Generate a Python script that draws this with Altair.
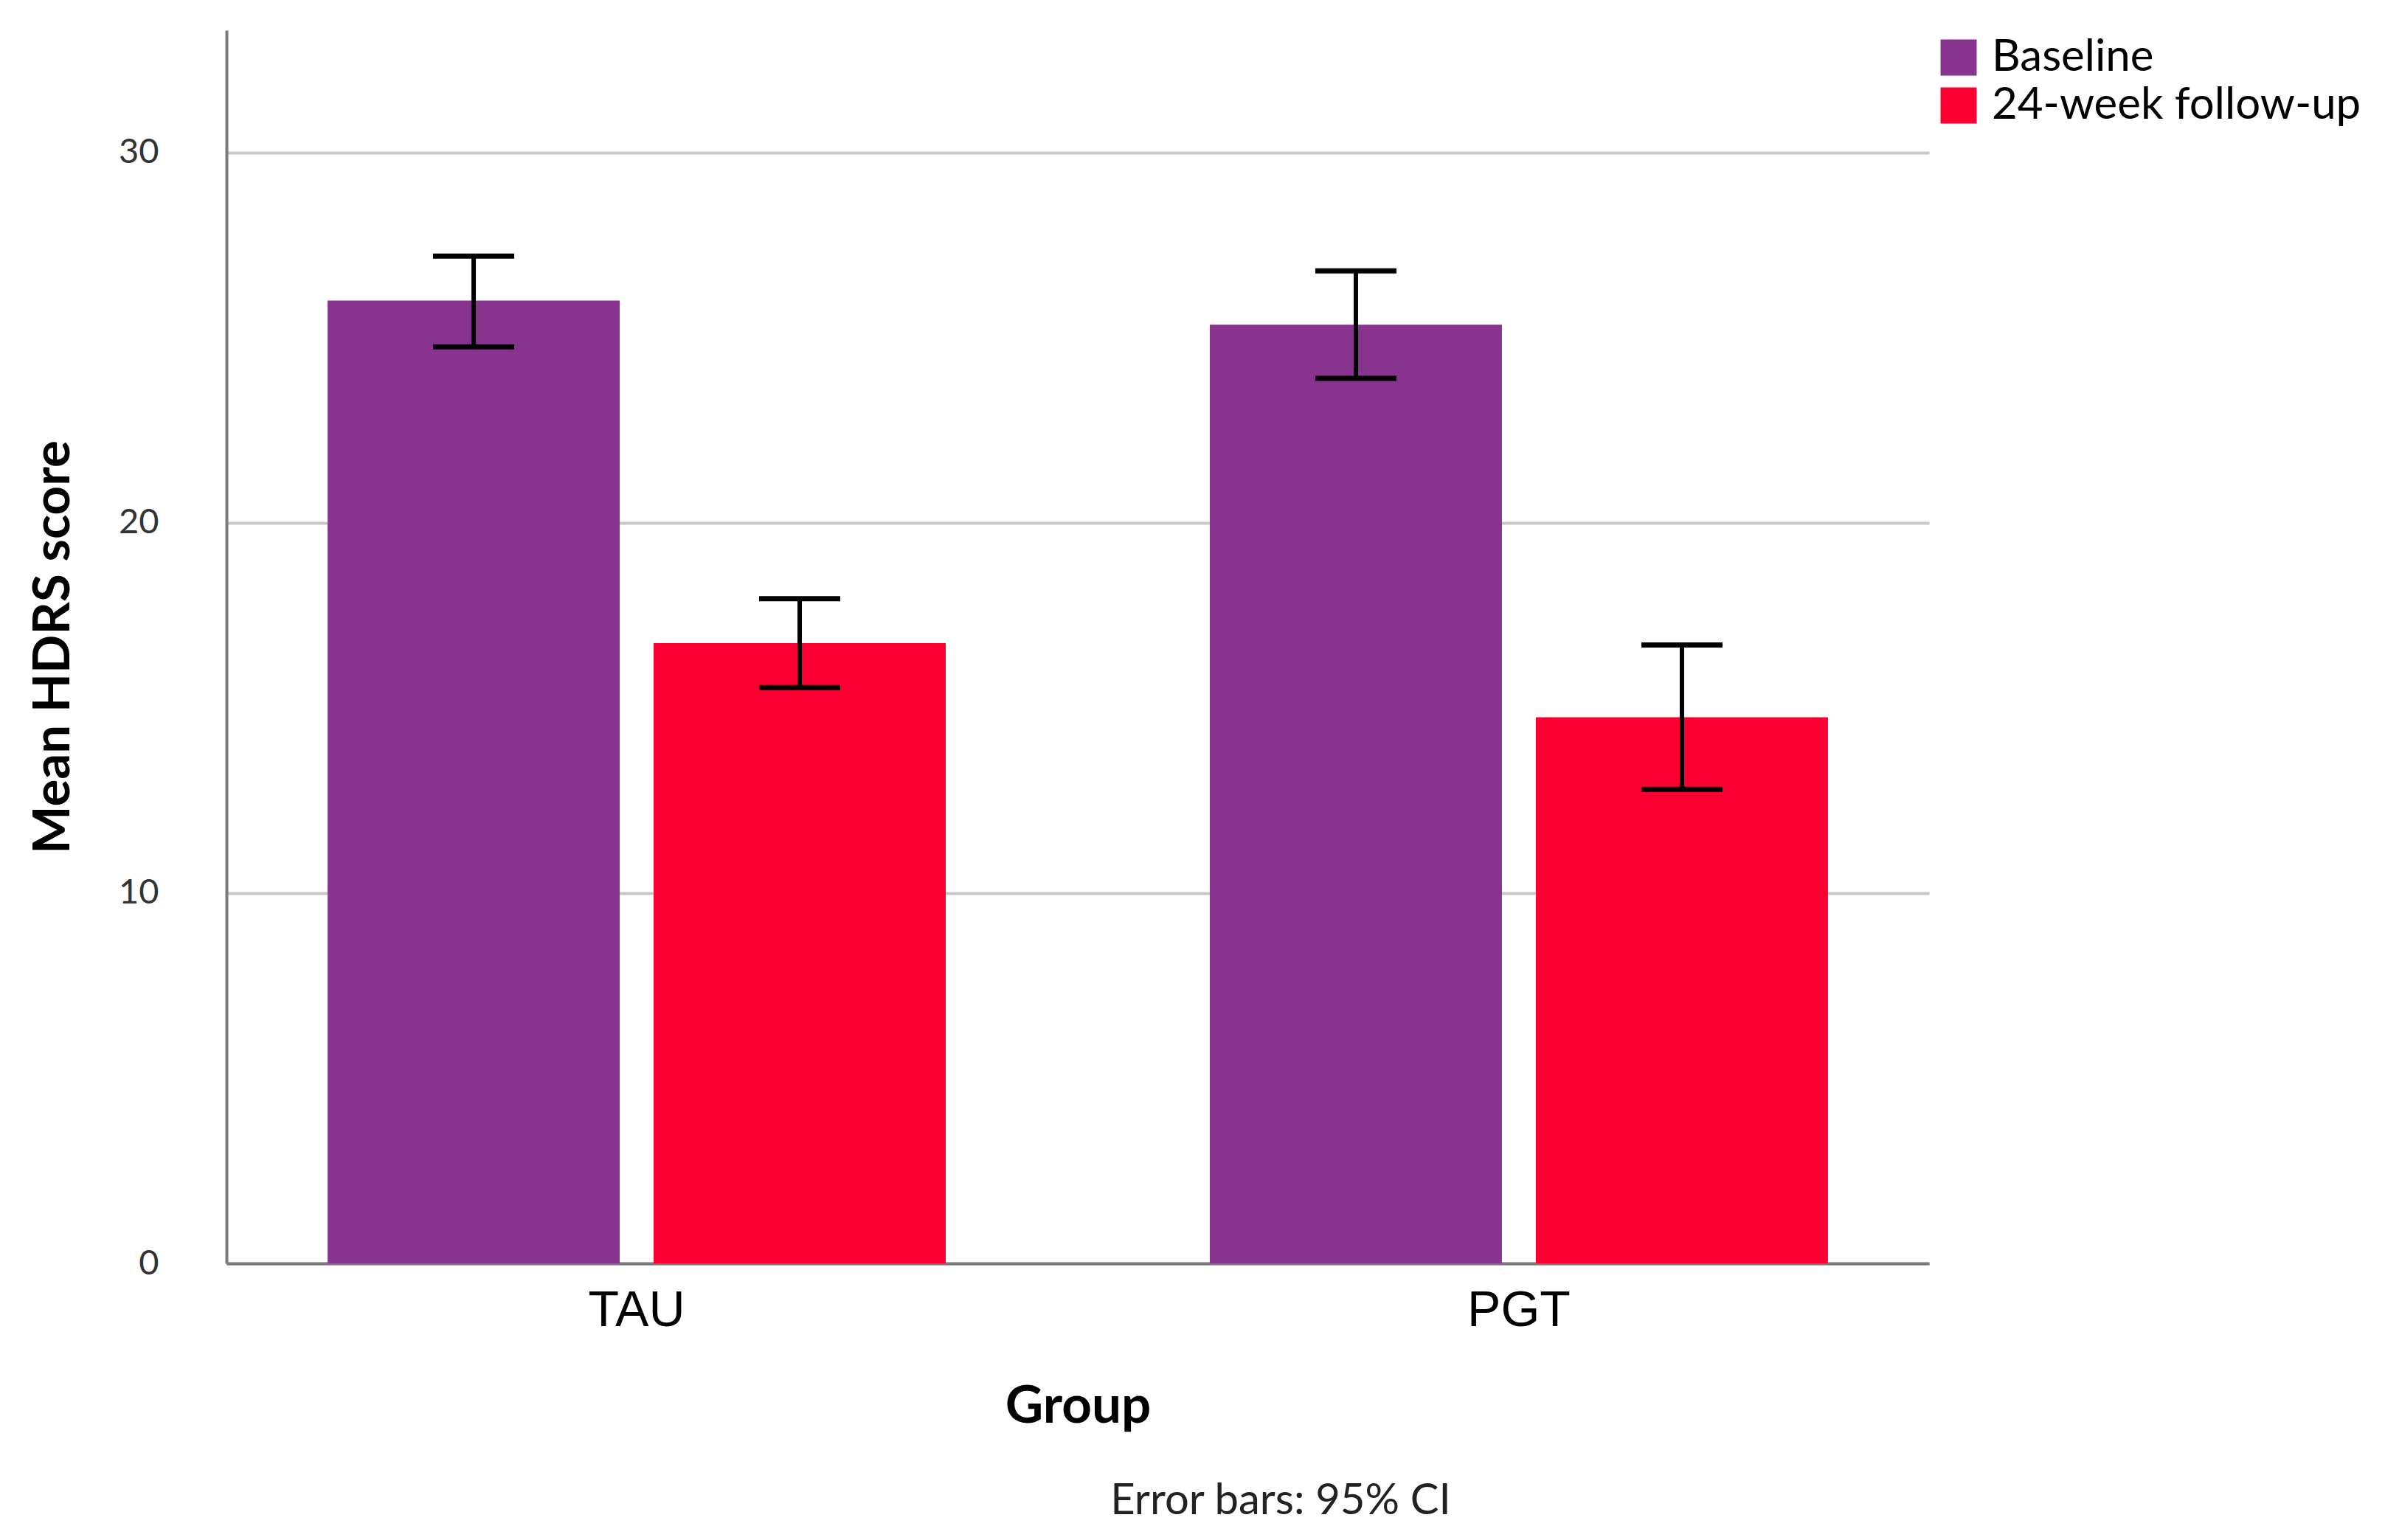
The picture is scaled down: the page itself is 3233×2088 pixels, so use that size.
import altair as alt
import pandas as pd

# ---- data ----
groups = ["TAU", "TAU", "PGT", "PGT"]
times = ["Baseline", "24-week follow-up", "Baseline", "24-week follow-up"]
means = [26.0, 16.75, 25.35, 14.75]
ci_low = [24.75, 15.55, 23.9, 12.8]
ci_high = [27.2, 17.95, 26.8, 16.7]

group_order = ["TAU", "PGT"]
time_order = ["Baseline", "24-week follow-up"]
colors = ["#88348F", "#FC0032"]
y_ticks = [0, 10, 20, 30]

df = pd.DataFrame({
    "group": groups,
    "time": times,
    "mean": means,
    "low": ci_low,
    "high": ci_high,
})

x_enc = alt.X(
    "group:N",
    sort=group_order,
    scale=alt.Scale(paddingInner=0.2993, paddingOuter=0.1146),
    axis=alt.Axis(
        title="Group",
        labelAngle=0,
        ticks=False,
        grid=False,
        labelFont="Liberation Sans",
        labelFontSize=68,
        labelColor="black",
        labelPadding=30,
        titleFont="Lato",
        titleFontSize=71,
        titleFontWeight="bold",
        titleColor="black",
        titlePadding=61,
        domainColor="#7a7a7a",
        domainWidth=4,
    ),
)
xoff_enc = alt.XOffset(
    "time:N",
    sort=time_order,
    scale=alt.Scale(paddingInner=0.104, paddingOuter=0),
)

y_axis = alt.Axis(
    values=y_ticks,
    title="Mean HDRS score",
    ticks=False,
    labelPadding=92,
    labelFont="Lato",
    labelFontSize=47,
    labelColor="#333333",
    titleFont="Lato",
    titleFontSize=69,
    titleFontWeight="bold",
    titleColor="black",
    titlePadding=53,
    gridColor="#c8c8c8",
    gridWidth=4,
    domainColor="#7a7a7a",
    domainWidth=4,
)
y_scale = alt.Scale(domain=[0, 33.3], nice=False)

base = alt.Chart(df)

bars = base.mark_bar().encode(
    x=x_enc,
    xOffset=xoff_enc,
    y=alt.Y("mean:Q", scale=y_scale, axis=y_axis),
    color=alt.Color(
        "time:N",
        sort=time_order,
        scale=alt.Scale(domain=time_order, range=colors),
        legend=alt.Legend(
            title=None,
            orient="none",
            legendX=2318,
            legendY=7,
            symbolType="square",
            symbolSize=2400,
            symbolStrokeWidth=0,
            symbolOpacity=1,
            labelFont="Lato",
            labelFontSize=60,
            labelColor="black",
            labelOffset=15,
            rowPadding=5,
            labelLimit=1000,
            padding=0,
        ),
    ),
)

rules = base.mark_rule(color="black", strokeWidth=6).encode(
    x=x_enc,
    xOffset=xoff_enc,
    y=alt.Y("low:Q", scale=y_scale),
    y2="high:Q",
)

caps_low = base.mark_tick(color="black", size=110, thickness=7, opacity=1).encode(
    x=x_enc,
    xOffset=xoff_enc,
    y=alt.Y("low:Q", scale=y_scale),
)
caps_high = base.mark_tick(color="black", size=110, thickness=7, opacity=1).encode(
    x=x_enc,
    xOffset=xoff_enc,
    y=alt.Y("high:Q", scale=y_scale),
)

chart = (
    alt.layer(bars, rules, caps_low, caps_high)
    .properties(
        width=2308,
        height=1672,
        autosize=alt.AutoSizeParams(type="none"),
        padding={"left": 299, "top": 33, "right": 610, "bottom": 367},
        background="white",
        title=alt.TitleParams(
            "Error bars: 95% CI",
            orient="bottom",
            anchor="middle",
            frame="group",
            dx=275,
            offset=65,
            font="Lato",
            fontSize=58,
            fontWeight="normal",
            color="#222222",
        ),
    )
    .configure_view(stroke=None)
)

chart.save("out.html", embed_options={"renderer": "svg", "actions": False})
